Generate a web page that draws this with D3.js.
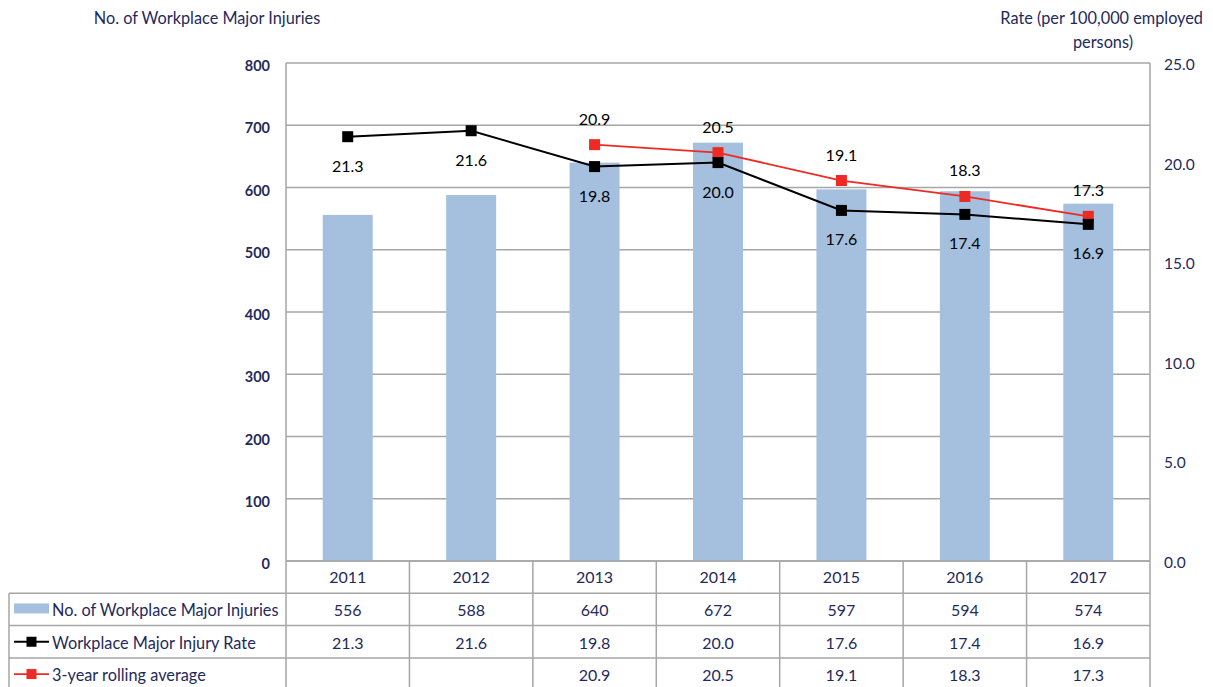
<!DOCTYPE html>
<html><head><meta charset="utf-8">
<script src="https://cdn.jsdelivr.net/npm/d3@7"></script>
<style>body{margin:0;background:#fff}svg{display:block}text{font-family:Lato,"Open Sans",sans-serif}</style>
</head><body>
<svg id="c" width="1213" height="687"></svg>
<script>
const years = ["2011","2012","2013","2014","2015","2016","2017"];
const injuries = [556,588,640,672,597,594,574];
const rate = [21.3,21.6,19.8,20.0,17.6,17.4,16.9];
const rolling = [null,null,20.9,20.5,19.1,18.3,17.3];
const leftTicks = [0,100,200,300,400,500,600,700,800];
const rightTicks = [0,5,10,15,20,25];
const seriesNames = ["No. of Workplace Major Injuries","Workplace Major Injury Rate","3-year rolling average"];

const navy = "#1f2a5c", grid = "#a6a6a6", barCol = "#a5c0df";
const svg = d3.select("#c");
const L = 286, R = 1150, T = 63, B = 561;
const x = d3.scaleBand().domain(years).range([L, R]).paddingInner(0).paddingOuter(0);
const yL = d3.scaleLinear().domain([0, 800]).range([B, T]);
const yR = d3.scaleLinear().domain([0, 25]).range([B, T]);

svg.append("g").selectAll("line").data(leftTicks).join("line")
  .attr("x1", L).attr("x2", R).attr("y1", d => yL(d)).attr("y2", d => yL(d))
  .attr("stroke", grid).attr("stroke-width", 1.5);
svg.append("line").attr("x1", L).attr("x2", L).attr("y1", T).attr("y2", B).attr("stroke", grid).attr("stroke-width", 1.5);
svg.append("line").attr("x1", R).attr("x2", R).attr("y1", T).attr("y2", B).attr("stroke", grid).attr("stroke-width", 1.5);

const bw = 50;
svg.append("g").selectAll("rect").data(injuries).join("rect")
  .attr("x", (d, i) => x(years[i]) + x.bandwidth() / 2 - bw / 2)
  .attr("width", bw)
  .attr("y", d => yL(d)).attr("height", d => B - yL(d))
  .attr("fill", barCol);

svg.append("g").selectAll("text").data(leftTicks).join("text")
  .attr("x", 270).attr("y", d => yL(d) + 8).attr("text-anchor", "end")
  .attr("font-size", 14.5).attr("font-weight", "bold").attr("fill", navy).text(d => d);
svg.append("g").selectAll("text").data(rightTicks).join("text")
  .attr("x", 1164).attr("y", d => yR(d) + 7).attr("text-anchor", "start")
  .attr("font-size", 15.5).attr("fill", navy).text(d => d.toFixed(1));

svg.append("text").attr("x", 207).attr("y", 24).attr("text-anchor", "middle")
  .attr("font-size", 16.3).attr("fill", navy).text("No. of Workplace Major Injuries");
svg.append("text").attr("x", 1203).attr("y", 24).attr("text-anchor", "end")
  .attr("font-size", 16.3).attr("fill", navy).text("Rate (per 100,000 employed");
svg.append("text").attr("x", 1133).attr("y", 48).attr("text-anchor", "end")
  .attr("font-size", 16.3).attr("fill", navy).text("persons)");

const cx = i => x(years[i]) + x.bandwidth() / 2;

const line = d3.line().defined(d => d.v != null).x(d => cx(d.i)).y(d => yR(d.v));
svg.append("path").datum(rate.map((v, i) => ({v, i})))
  .attr("d", line).attr("fill", "none").attr("stroke", "#000").attr("stroke-width", 2);
svg.append("path").datum(rolling.map((v, i) => ({v, i})))
  .attr("d", line).attr("fill", "none").attr("stroke", "#ee2a24").attr("stroke-width", 1.8);
const ms = 11;
svg.append("g").selectAll("rect").data(rolling.map((v, i) => ({v, i})).filter(d => d.v != null)).join("rect")
  .attr("x", d => cx(d.i) - ms / 2).attr("y", d => yR(d.v) - ms / 2).attr("width", ms).attr("height", ms)
  .attr("fill", "#ee2a24");
svg.append("g").selectAll("rect").data(rate.map((v, i) => ({v, i}))).join("rect")
  .attr("x", d => cx(d.i) - ms / 2).attr("y", d => yR(d.v) - ms / 2).attr("width", ms).attr("height", ms)
  .attr("fill", "#000");

svg.append("g").selectAll("text").data(rate.map((v, i) => ({v, i}))).join("text")
  .attr("x", d => cx(d.i)).attr("y", d => yR(d.v) + 35).attr("text-anchor", "middle")
  .attr("font-size", 16).attr("fill", "#000").text(d => d.v.toFixed(1));
svg.append("g").selectAll("text").data(rolling.map((v, i) => ({v, i})).filter(d => d.v != null)).join("text")
  .attr("x", d => cx(d.i)).attr("y", d => yR(d.v) - 20).attr("text-anchor", "middle")
  .attr("font-size", 16).attr("fill", "#000").text(d => d.v.toFixed(1));

const rowH = 32.3;
const tb = svg.append("g");
const tl = 9;
[0, 1, 2, 3].forEach(r => {
  const yy = B + r * rowH;
  tb.append("line").attr("x1", r === 0 ? L : tl).attr("x2", R).attr("y1", yy).attr("y2", yy)
    .attr("stroke", grid).attr("stroke-width", 1.5);
});
years.forEach(yv => {
  tb.append("line").attr("x1", x(yv)).attr("x2", x(yv)).attr("y1", B).attr("y2", 687)
    .attr("stroke", grid).attr("stroke-width", 1.5);
});
tb.append("line").attr("x1", R).attr("x2", R).attr("y1", B).attr("y2", 687).attr("stroke", grid).attr("stroke-width", 1.5);
tb.append("line").attr("x1", tl).attr("x2", tl).attr("y1", B + rowH).attr("y2", 687).attr("stroke", grid).attr("stroke-width", 1.5);

tb.selectAll("text.yr").data(years).join("text").attr("class", "yr")
  .attr("x", d => x(d) + x.bandwidth() / 2).attr("y", B + rowH / 2 + 6).attr("text-anchor", "middle")
  .attr("font-size", 16).attr("fill", navy).text(d => d);
const rows = [injuries.map(String), rate.map(v => v.toFixed(1)), rolling.map(v => v == null ? "" : v.toFixed(1))];
rows.forEach((row, r) => {
  tb.append("g").selectAll("text").data(row).join("text")
    .attr("x", (d, i) => cx(i)).attr("y", B + (r + 1) * rowH + rowH / 2 + 7).attr("text-anchor", "middle")
    .attr("font-size", 16).attr("fill", navy).text(d => d);
  tb.append("text").attr("x", 52).attr("y", B + (r + 1) * rowH + rowH / 2 + 7)
    .attr("font-size", 16.3).attr("fill", navy).text(seriesNames[r]);
});
const ly0 = B + rowH + rowH / 2;
tb.append("rect").attr("x", 14).attr("y", ly0 - 6).attr("width", 35).attr("height", 10).attr("fill", barCol);
const ly1 = B + 2 * rowH + rowH / 2;
tb.append("line").attr("x1", 14).attr("x2", 49).attr("y1", ly1).attr("y2", ly1).attr("stroke", "#000").attr("stroke-width", 2);
tb.append("rect").attr("x", 26.5).attr("y", ly1 - 5).attr("width", 10).attr("height", 10).attr("fill", "#000");
const ly2 = B + 3 * rowH + rowH / 2;
tb.append("line").attr("x1", 14).attr("x2", 49).attr("y1", ly2).attr("y2", ly2).attr("stroke", "#ee2a24").attr("stroke-width", 1.8);
tb.append("rect").attr("x", 26.5).attr("y", ly2 - 5).attr("width", 10).attr("height", 10).attr("fill", "#ee2a24");
</script>
</body></html>
